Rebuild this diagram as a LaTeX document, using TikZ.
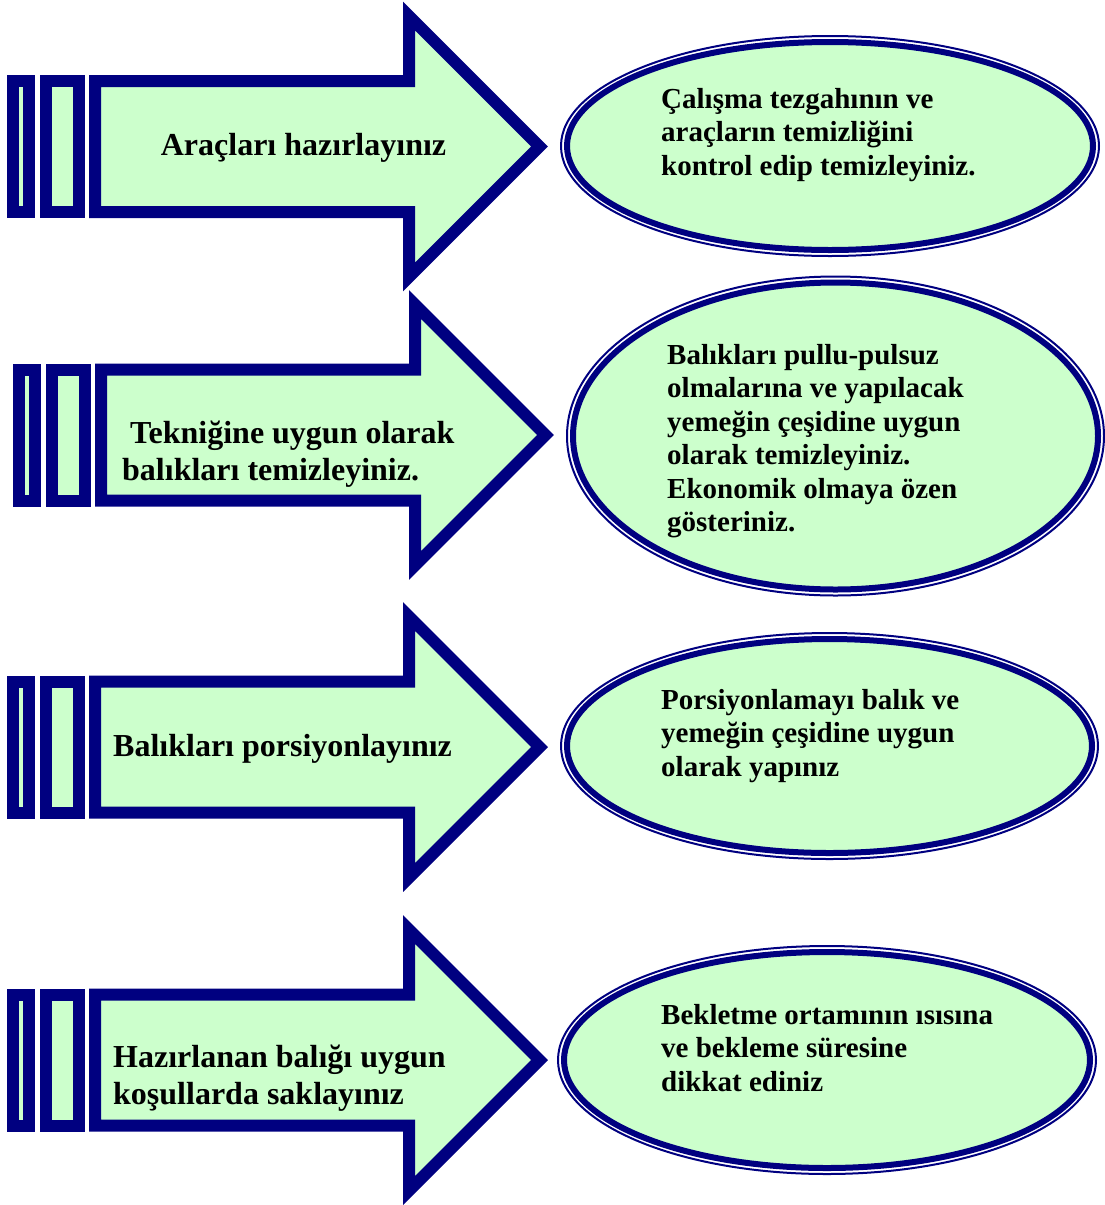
\documentclass[tikz,border=0pt]{standalone}
\usepackage{fontspec}
\setmainfont{Liberation Serif}
\definecolor{navy}{RGB}{0,0,128}
\definecolor{mint}{RGB}{204,255,204}
\newcommand\stripedarrow[3]{%
  \begin{scope}[shift={(#1,#2)}]
    \draw[arrowline] (13,-65.5) rectangle (29,65.5);
    \draw[arrowline] (46,-65.5) rectangle (79,65.5);
    \draw[arrowline] (95,-65.5) -- (409,-65.5) -- (409,-130.5) -- (539.5,0)
      -- (409,130.5) -- (409,65.5) -- (95,65.5) -- cycle;
    \coordinate (#3) at (539.5,0);
  \end{scope}}
\begin{document}
\begin{tikzpicture}[x=1pt,y=-1pt,
  arrowline/.style={draw=navy, fill=mint, line width=12pt, line join=miter, miter limit=10},
  thinring/.style={draw=navy, line width=2pt},
  thickring/.style={draw=navy, fill=mint, line width=6pt},
  arrowtext/.style={anchor=base west, inner sep=0pt, font=\fontsize{32}{37}\selectfont\bfseries},
  elltext/.style={anchor=base west, inner sep=0pt, font=\fontsize{29}{33.5}\selectfont\bfseries}]
\useasboundingbox (0,0) rectangle (1105,1205);

% arrows
\stripedarrow{0}{146.5}{tip1}
\stripedarrow{6}{435}{tip2}
\stripedarrow{0}{747}{tip3}
\stripedarrow{0}{1060}{tip4}

% ellipses
\draw[thickring] (830,146) ellipse [x radius=263, y radius=104];
\draw[thinring] (830,146) ellipse [x radius=269, y radius=110];
\draw[thickring] (835.5,436) ellipse [x radius=262.5, y radius=153.5];
\draw[thinring] (835.5,436) ellipse [x radius=268.5, y radius=159.5];
\draw[thickring] (829.5,746) ellipse [x radius=262.5, y radius=107];
\draw[thinring] (829.5,746) ellipse [x radius=268.5, y radius=113];
\draw[thickring] (827,1060) ellipse [x radius=263, y radius=108];
\draw[thinring] (827,1060) ellipse [x radius=269, y radius=114];

% arrow texts
\node[arrowtext, anchor=base] (a1) at (303.5,155) {Araçları hazırlayınız};
\node[arrowtext] (a2) at (122,443) {\begin{tabular}[t]{@{}l@{}}\ Tekniğine uygun olarak\\balıkları temizleyiniz.\end{tabular}};
\node[arrowtext] (a3) at (113,756) {Balıkları porsiyonlayınız};
\node[arrowtext] (a4) at (113,1067) {\begin{tabular}[t]{@{}l@{}}Hazırlanan balığı uygun\\koşullarda saklayınız\end{tabular}};

% ellipse texts
\node[elltext] (e1) at (661,108) {\begin{tabular}[t]{@{}l@{}}Çalışma tezgahının ve\\araçların temizliğini\\kontrol edip temizleyiniz.\end{tabular}};
\node[elltext] (e2) at (667,364) {\begin{tabular}[t]{@{}l@{}}Balıkları pullu-pulsuz\\olmalarına ve yapılacak\\yemeğin çeşidine uygun\\olarak temizleyiniz.\\Ekonomik olmaya özen\\gösteriniz.\end{tabular}};
\node[elltext] (e3) at (661,709) {\begin{tabular}[t]{@{}l@{}}Porsiyonlamayı balık ve\\yemeğin çeşidine uygun\\olarak yapınız\end{tabular}};
\node[elltext] (e4) at (661,1024) {\begin{tabular}[t]{@{}l@{}}Bekletme ortamının ısısına\\ve bekleme süresine\\dikkat ediniz\end{tabular}};
\end{tikzpicture}
\end{document}
